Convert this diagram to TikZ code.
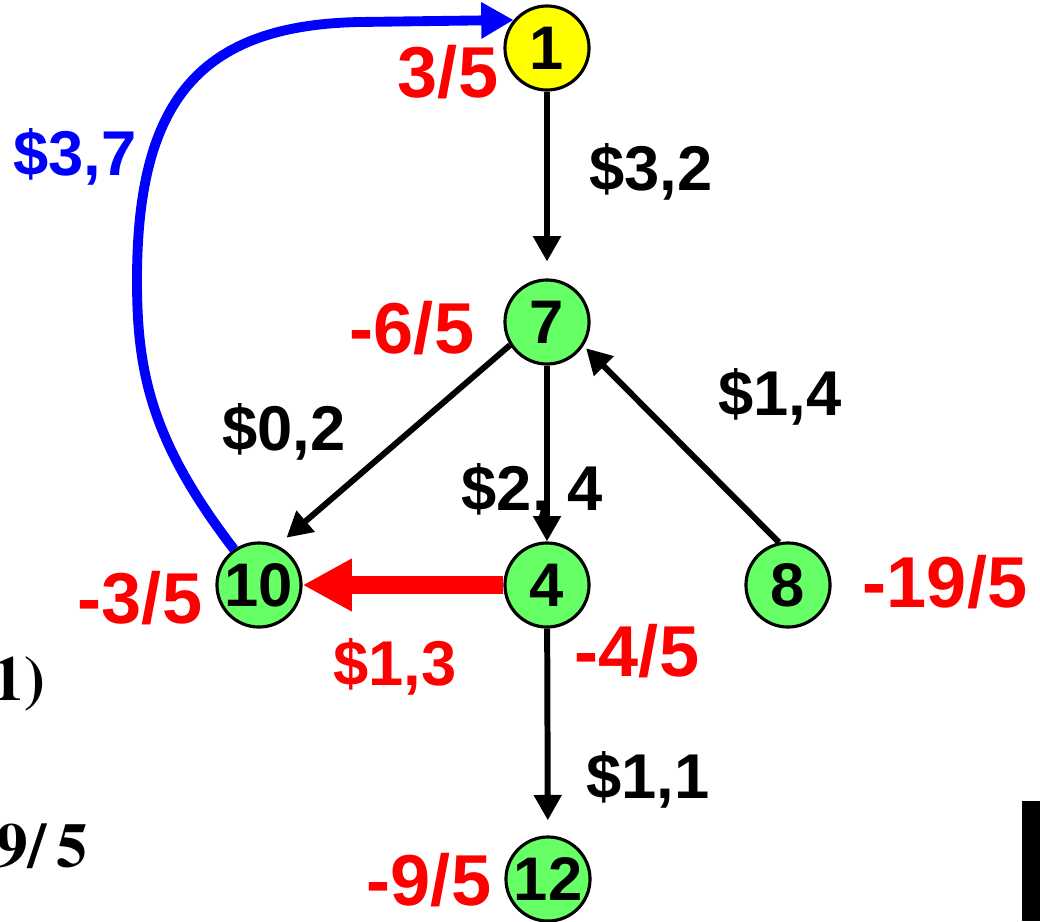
\documentclass[tikz,border=0pt]{standalone}
\usepackage{fontspec}
\setmainfont{Liberation Sans}
\newfontfamily\timesfont{TeX Gyre Termes}
\definecolor{treeGreen}{RGB}{102,255,102}
\definecolor{treeYellow}{RGB}{255,255,0}
\usetikzlibrary{arrows.meta,positioning}

\begin{document}
\begin{tikzpicture}[x=0.01cm, y=-0.01cm,
  vertex/.style={circle, draw, line width=0.9pt, minimum size=0.84cm, inner sep=0pt,
                 font=\fontsize{17.5}{20}\selectfont\bfseries},
  leaf/.style={vertex, fill=treeGreen},
  root/.style={vertex, fill=treeYellow},
  cost/.style={font=\fontsize{18}{21}\selectfont\bfseries},
  dual/.style={text=red, font=\fontsize{20.5}{24}\selectfont\bfseries},
  side/.style={font=\fontsize{18}{22}\selectfont\timesfont\bfseries, anchor=base east, inner sep=0pt},
  arc/.style={line width=1.7pt, -{Triangle[length=7.2pt,width=7.6pt]}},
  enter/.style={red, line width=5pt, -{Triangle[length=14pt,width=14pt]}},
  back/.style={blue, line width=2.8pt, -{Triangle[length=9.2pt,width=9.8pt]}}
]
  \useasboundingbox (0,0) rectangle (1040,921);

  \node[root] (v1)  at (547,48)  {1};
  \node[leaf] (v7)  at (547,322) {7};
  \node[leaf] (v10) at (259,585) {10};
  \node[leaf] (v4)  at (547,585) {4};
  \node[leaf] (v8)  at (788,585) {8};
  \node[leaf] (v12) at (548,879) {12};

  \node[dual] (d1)  at (448,72)  {3/5};
  \node[dual] (d7)  at (412,328) {-6/5};
  \node[dual] (d10) at (140,598) {-3/5};
  \node[dual] (d4)  at (637,651) {-4/5};
  \node[dual] (d8)  at (945,582) {-19/5};
  \node[dual] (d12) at (429,880) {-9/5};

  \node[cost]            (c17)  at (651,172) {\$3,2};
  \node[cost]            (c87)  at (780,397) {\$1,4};
  \node[cost]            (c710) at (284,432) {\$0,2};
  \node[cost]            (c74)  at (532,492) {\$2, 4};
  \node[cost]            (c412) at (648,780) {\$1,1};
  \node[cost, text=red]  (c410) at (395,667) {\$1,3};
  \node[cost, text=blue] (c101) at (75,157)  {\$3,7};

  \node[side] (t1) at (46,700) {1)};
  \node[side] (t2) at (89,867) {9/\,5};
  \fill (1022,801) rectangle (1040,921);

  \draw[arc, shorten >=4.8pt] (v1) -- (v7);
  \draw[arc] (v7) -- (v4);
  \draw[arc, shorten >=3.4pt] (v7.212) -- (v10.65);
  \draw[arc, shorten >=1pt] (v8.102) -- (v7.327);
  \draw[arc, shorten >=4.3pt] (v4) -- (v12);
  \draw[enter] (v4) -- (v10);
  \draw[back] (v10.125) .. controls (150,440) and (137,370) .. (137,280)
              .. controls (137,100) and (200,25) .. (360,22) -- (v1.140);
\end{tikzpicture}
\end{document}
